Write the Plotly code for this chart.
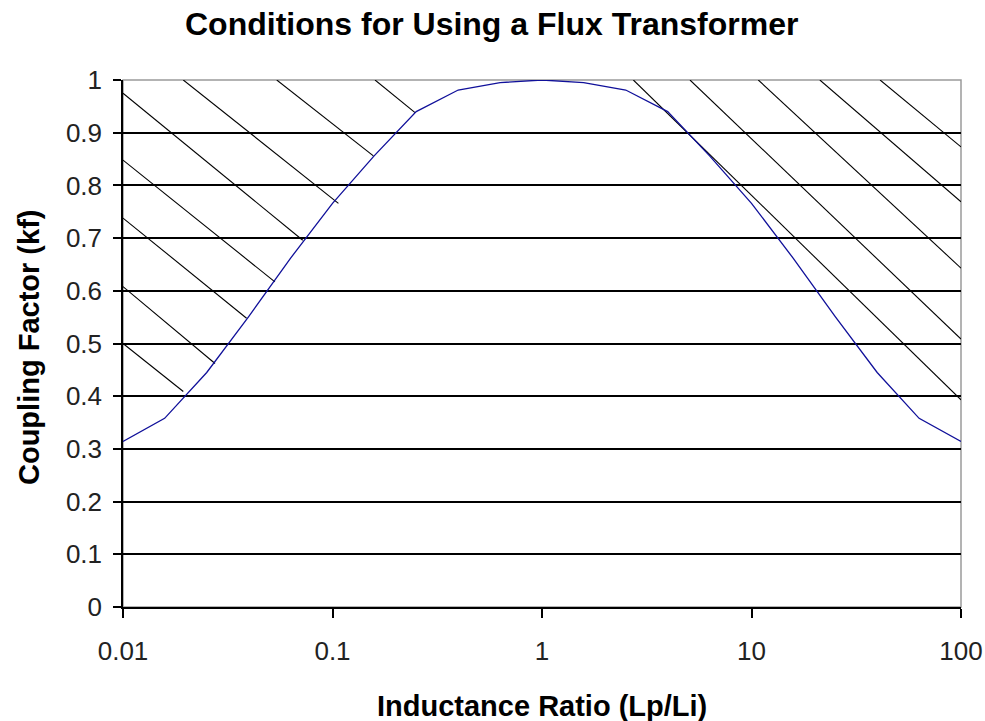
import plotly.graph_objects as go

# Curve data: coupling factor vs inductance ratio
ratio = [0.01, 0.0158, 0.0251, 0.0398, 0.0631, 0.1, 0.158, 0.251, 0.398, 0.631,
         1.0, 1.58, 2.51, 3.98, 6.31, 10.0, 15.8, 25.1, 39.8, 63.1, 100.0]
kf = [0.314, 0.358, 0.445, 0.551, 0.662, 0.766, 0.856, 0.940, 0.981, 0.995,
      1.000, 0.995, 0.981, 0.940, 0.856, 0.766, 0.662, 0.551, 0.445, 0.358, 0.314]

# Hatch segments (start / end points in data units)
hatch_x0 = [0.01, 0.01, 0.01, 0.01, 0.01, 0.0194, 0.0542, 0.1596,
            2.73, 5.086, 10.78, 21.2, 41.1]
hatch_y0 = [0.975, 0.848, 0.738, 0.608, 0.500, 1.0, 1.0, 1.0,
            1.0, 1.0, 1.0, 1.0, 1.0]
hatch_x1 = [0.0721, 0.0531, 0.0389, 0.0275, 0.0194, 0.1067, 0.1567, 0.2478,
            100, 100, 100, 100, 100]
hatch_y1 = [0.696, 0.617, 0.548, 0.462, 0.409, 0.766, 0.856, 0.938,
            0.393, 0.5085, 0.643, 0.769, 0.873]

x_ticks = [0.01, 0.1, 1, 10, 100]
x_tick_text = ["0.01", "0.1", "1", "10", "100"]
y_ticks = [0, 0.1, 0.2, 0.3, 0.4, 0.5, 0.6, 0.7, 0.8, 0.9, 1]
y_tick_text = ["0", "0.1", "0.2", "0.3", "0.4", "0.5", "0.6", "0.7", "0.8", "0.9", "1"]

title_text = "Conditions for Using a Flux Transformer"
x_title = "Inductance Ratio (Lp/Li)"
y_title = "Coupling Factor (kf)"

hx, hy = [], []
for a, b, c, d in zip(hatch_x0, hatch_y0, hatch_x1, hatch_y1):
    hx += [a, c, None]
    hy += [b, d, None]

FONT = "Liberation Sans, Arial, sans-serif"
TICK_COLOR = "#222222"

fig = go.Figure()
fig.add_trace(go.Scatter(x=hx, y=hy, mode="lines",
                         line=dict(color="black", width=1.1),
                         hoverinfo="skip", showlegend=False))
fig.add_trace(go.Scatter(x=ratio, y=kf, mode="lines",
                         line=dict(color="#10109a", width=1.3),
                         showlegend=False))

fig.update_layout(
    width=985, height=721,
    margin=dict(l=123, r=24, t=80, b=114),
    paper_bgcolor="white", plot_bgcolor="white",
    font=dict(family=FONT, color="black"),
    xaxis=dict(type="log", range=[-2, 2], automargin=False,
               tickvals=x_ticks, ticktext=x_tick_text,
               showgrid=False, zeroline=False,
               showline=True, linecolor="black", linewidth=1.5,
               ticks="outside", ticklen=9, tickwidth=1.5, tickcolor="black",
               ticklabelstandoff=11,
               tickfont=dict(size=26, family=FONT, color=TICK_COLOR)),
    yaxis=dict(range=[0, 1], automargin=False,
               tickvals=y_ticks, ticktext=y_tick_text,
               showgrid=True, gridcolor="black", gridwidth=1.6,
               zeroline=False,
               showline=True, linecolor="black", linewidth=1.5,
               ticks="outside", ticklen=8, tickwidth=1.5, tickcolor="black",
               ticklabelstandoff=6,
               tickfont=dict(size=26, family=FONT, color=TICK_COLOR)),
    shapes=[dict(type="rect", xref="paper", yref="paper", x0=0, x1=1, y0=0, y1=1,
                 line=dict(color="#9a9a9a", width=1.5), layer="below")],
    annotations=[
        dict(text="<b>%s</b>" % title_text, xref="paper", yref="paper",
             x=(491 - 123) / 838, y=(607 - 24) / 527,
             xanchor="center", yanchor="middle", showarrow=False,
             font=dict(size=32, family=FONT, color="black")),
        dict(text="<b>%s</b>" % x_title, xref="paper", yref="paper",
             x=0.5, y=(607 - 706) / 527,
             xanchor="center", yanchor="middle", showarrow=False,
             font=dict(size=29, family=FONT, color="black")),
        dict(text="<b>%s</b>" % y_title, xref="paper", yref="paper",
             x=(29 - 123) / 838, y=(607 - 348) / 527, textangle=-90,
             xanchor="center", yanchor="middle", showarrow=False,
             font=dict(size=29, family=FONT, color="black")),
    ],
)

fig.write_html("out.html",
               config={"displayModeBar": False},
               post_script="document.body.style.margin='0';document.body.style.overflow='hidden';")
